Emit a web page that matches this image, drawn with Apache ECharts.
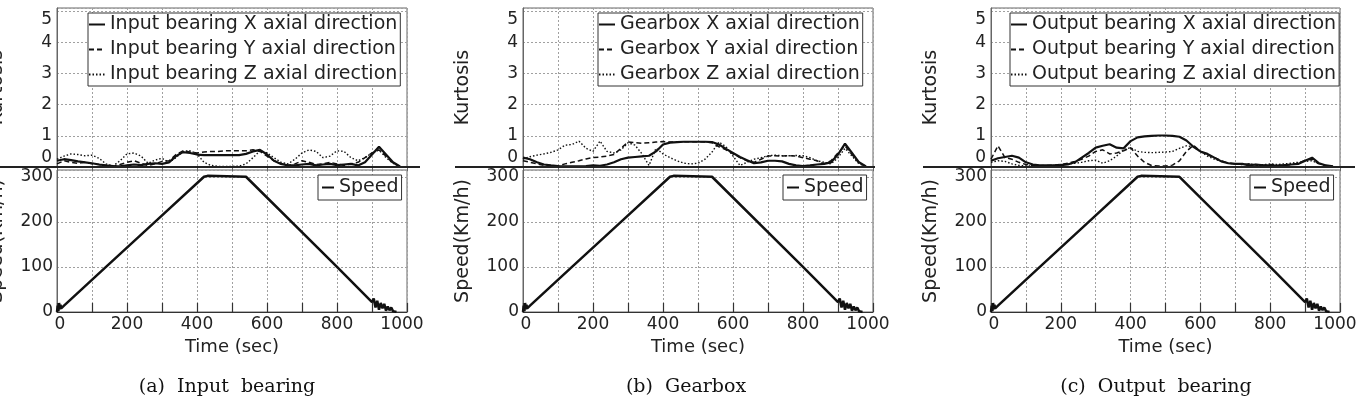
<!DOCTYPE html>
<html>
<head>
<meta charset="utf-8">
<script src="https://cdn.jsdelivr.net/npm/echarts@6/dist/echarts.min.js"></script>
<style>
html, body { margin: 0; padding: 0; background: #fff; }
#chart { width: 1358px; height: 399px; }
</style>
</head>
<body>
<div id="chart"></div>
<script>
// sample times (sec) of the kurtosis curves
const time = [0, 20, 40, 60, 80, 100, 120, 140, 160, 180, 200, 220, 240, 260, 280, 300, 320, 340, 360, 380,
    400, 420, 440, 460, 480, 500, 520, 540, 560, 580, 600, 620, 640, 660, 680, 700, 720, 740, 760, 780,
    800, 820, 840, 860, 880, 900, 920, 940, 960, 980]

// (a) input bearing
const inputX = [0.2, 0.25, 0.22, 0.18, 0.15, 0.12, 0.08, 0.05, 0.03, 0.02, 0.05, 0.08, 0.06, 0.1, 0.12, 0.1, 0.15, 0.35, 0.48, 0.45,
    0.4, 0.38, 0.38, 0.38, 0.38, 0.38, 0.38, 0.42, 0.5, 0.55, 0.4, 0.2, 0.1, 0.05, 0.05, 0.08, 0.1, 0.05, 0.08, 0.1,
    0.06, 0.08, 0.1, 0.05, 0.15, 0.4, 0.65, 0.4, 0.15, 0.02]
const inputY = [0.1, 0.2, 0.15, 0.12, 0.15, 0.1, 0.08, 0.03, 0.02, 0.08, 0.15, 0.2, 0.12, 0.05, 0.1, 0.18, 0.2, 0.4, 0.52, 0.48,
    0.45, 0.48, 0.5, 0.5, 0.52, 0.52, 0.52, 0.52, 0.55, 0.5, 0.35, 0.2, 0.1, 0.05, 0.1, 0.2, 0.15, 0.08, 0.1, 0.15,
    0.1, 0.05, 0.1, 0.15, 0.3, 0.45, 0.55, 0.35, 0.12, 0.02]
const inputZ = [0.25, 0.35, 0.42, 0.4, 0.36, 0.38, 0.28, 0.1, 0.03, 0.2, 0.42, 0.45, 0.35, 0.12, 0.22, 0.28, 0.15, 0.3, 0.5, 0.52,
    0.42, 0.15, 0.05, 0.02, 0.02, 0.02, 0.03, 0.1, 0.3, 0.52, 0.45, 0.3, 0.15, 0.1, 0.25, 0.45, 0.55, 0.5, 0.3, 0.35,
    0.52, 0.5, 0.3, 0.2, 0.3, 0.45, 0.55, 0.3, 0.12, 0.03]

// (b) gearbox
const gearX = [0.3, 0.25, 0.15, 0.08, 0.05, 0.03, 0.02, 0.02, 0.02, 0.03, 0.05, 0.04, 0.08, 0.15, 0.25, 0.3, 0.32, 0.34, 0.36, 0.5,
    0.72, 0.78, 0.8, 0.81, 0.81, 0.81, 0.81, 0.8, 0.72, 0.58, 0.45, 0.32, 0.22, 0.12, 0.15, 0.2, 0.2, 0.18, 0.1, 0.05,
    0.03, 0.05, 0.08, 0.1, 0.15, 0.4, 0.75, 0.45, 0.15, 0.02]
const gearY = [0.2, 0.15, 0.1, 0.05, 0.02, 0.03, 0.1, 0.15, 0.2, 0.26, 0.3, 0.32, 0.35, 0.4, 0.6, 0.8, 0.78, 0.76, 0.78, 0.8,
    0.82, 0.8, 0.8, 0.81, 0.81, 0.81, 0.8, 0.78, 0.65, 0.55, 0.42, 0.3, 0.2, 0.15, 0.25, 0.35, 0.36, 0.35, 0.36, 0.35,
    0.3, 0.25, 0.2, 0.1, 0.2, 0.45, 0.68, 0.4, 0.12, 0.02]
const gearZ = [0.25, 0.33, 0.38, 0.42, 0.47, 0.55, 0.7, 0.72, 0.83, 0.6, 0.5, 0.83, 0.5, 0.45, 0.55, 0.78, 0.7, 0.42, 0.05, 0.6,
    0.42, 0.3, 0.2, 0.12, 0.1, 0.12, 0.25, 0.48, 0.8, 0.65, 0.35, 0.05, 0.15, 0.25, 0.3, 0.36, 0.38, 0.36, 0.36, 0.37,
    0.36, 0.3, 0.2, 0.15, 0.1, 0.3, 0.6, 0.35, 0.1, 0.02]

// (c) output bearing
const outputX = [0.2, 0.28, 0.32, 0.36, 0.3, 0.15, 0.08, 0.05, 0.05, 0.05, 0.06, 0.08, 0.15, 0.3, 0.45, 0.62, 0.68, 0.73, 0.62, 0.6,
    0.83, 0.95, 0.98, 1.0, 1.01, 1.01, 1.0, 0.97, 0.85, 0.65, 0.5, 0.42, 0.3, 0.18, 0.12, 0.1, 0.1, 0.05, 0.08, 0.05,
    0.05, 0.04, 0.06, 0.08, 0.1, 0.2, 0.3, 0.12, 0.05, 0.02]
const outputY = [0.25, 0.68, 0.3, 0.25, 0.15, 0.08, 0.05, 0.04, 0.05, 0.06, 0.08, 0.12, 0.18, 0.25, 0.35, 0.5, 0.55, 0.42, 0.45, 0.52,
    0.62, 0.35, 0.15, 0.05, 0.03, 0.03, 0.06, 0.2, 0.5, 0.7, 0.5, 0.4, 0.3, 0.2, 0.12, 0.1, 0.08, 0.1, 0.06, 0.05,
    0.08, 0.06, 0.05, 0.08, 0.12, 0.22, 0.25, 0.1, 0.05, 0.02]
const outputZ = [0.15, 0.2, 0.18, 0.1, 0.05, 0.03, 0.03, 0.02, 0.03, 0.05, 0.08, 0.1, 0.12, 0.15, 0.2, 0.22, 0.12, 0.2, 0.35, 0.55,
    0.62, 0.5, 0.47, 0.46, 0.47, 0.48, 0.5, 0.6, 0.68, 0.65, 0.5, 0.35, 0.25, 0.18, 0.12, 0.1, 0.08, 0.1, 0.08, 0.07,
    0.1, 0.08, 0.1, 0.12, 0.15, 0.18, 0.2, 0.1, 0.04, 0.01]

// speed profile (same run in all three panels)
const speedTime = [0, 2, 4, 6, 8, 10, 12, 14, 16, 20, 140, 280, 420, 430, 540, 800, 900, 905, 910, 915, 920, 925, 930,
    935, 940, 945, 950, 955, 960, 965, 970]
const speedVal = [0, 14, 2, 20, 6, 16, 8, 12, 10, 14, 100, 200, 300, 302, 300, 100, 22, 30, 10, 25, 5, 20, 8,
    18, 3, 12, 4, 10, 2, 5, 0]

const kurtTicks = [0, 1, 2, 3, 4, 5]
const speedTicks = [0, 100, 200, 300]
const timeTicks = [0, 200, 400, 600, 800, 1000]

const panels = [
    { caption: '(a)  Input  bearing', names: ['Input bearing X axial direction', 'Input bearing Y axial direction', 'Input bearing Z axial direction'], data: [inputX, inputY, inputZ] },
    { caption: '(b)  Gearbox', names: ['Gearbox X axial direction', 'Gearbox Y axial direction', 'Gearbox Z axial direction'], data: [gearX, gearY, gearZ] },
    { caption: '(c)  Output  bearing', names: ['Output bearing X axial direction', 'Output bearing Y axial direction', 'Output bearing Z axial direction'], data: [outputX, outputY, outputZ] }
]

// layout
const plotLeft = [57, 523, 991]
const plotWidth = [350, 350, 349]
const kurtLegendLeft = [88, 598, 1010]
const speedLegendLeft = [318, 783, 1250]
const captionX = [227, 686, 1156]
const sepLine = [[0, 420], [455, 875], [923, 1355]]

const FONT = 'DejaVu Sans'
const gridLine = { show: true, lineStyle: { color: '#a0a0a0', type: [2, 2], width: 1 } }
const styles = [
    { width: 2.2, type: 'solid' },
    { width: 1.5, type: [5, 3] },
    { width: 1.4, type: [1.5, 2] }
]
const tickFont = { fontSize: 17, color: '#222', fontFamily: FONT }

const chart = echarts.init(document.getElementById('chart'))

let grid = [], xAxis = [], yAxis = [], series = [], legend = [], graphic = []

panels.forEach((p, i) => {
    const gTop = i * 2, gBot = i * 2 + 1
    grid.push({ left: plotLeft[i], width: plotWidth[i], top: 8, height: 159, show: true, borderColor: '#666', borderWidth: 1, outerBoundsMode: 'none', containLabel: false })
    grid.push({ left: plotLeft[i], width: plotWidth[i], top: 170, height: 142, show: true, borderColor: '#666', borderWidth: 1, outerBoundsMode: 'none', containLabel: false })

    xAxis.push({
        gridIndex: gTop, type: 'value', position: 'top', min: 0, max: 1000, interval: 100,
        axisLine: { lineStyle: { color: '#666' } },
        axisTick: { inside: true, length: 4, lineStyle: { color: '#666' } },
        axisLabel: { show: false },
        splitLine: gridLine
    })
    xAxis.push({
        gridIndex: gBot, type: 'value', min: 0, max: 1000, interval: 100,
        name: 'Time (sec)', nameLocation: 'middle', nameGap: 26,
        nameTextStyle: { fontSize: 18, color: '#222', fontFamily: FONT },
        axisLine: { lineStyle: { color: '#333', width: 1.2 } },
        axisTick: { inside: true, length: 9, lineStyle: { color: '#333', width: 1.2 } },
        axisLabel: {
            ...tickFont, margin: 4,
            formatter: v => v === 0 ? '{first|0}' : v === 1000 ? '{last|1000}' : (timeTicks.includes(v) ? String(v) : ''),
            rich: {
                first: { ...tickFont, padding: [0, 0, 0, 6] },
                last: { ...tickFont, padding: [0, 10, 0, 0] }
            }
        },
        splitLine: gridLine
    })

    yAxis.push({
        gridIndex: gTop, type: 'value', min: 0, max: 5.1, interval: 1,
        name: 'Kurtosis', nameLocation: 'middle', nameGap: 50,
        nameTextStyle: { fontSize: 19, color: '#222', fontFamily: FONT },
        axisLine: { show: true, lineStyle: { color: '#666' } },
        axisTick: { show: false },
        axisLabel: {
            ...tickFont, margin: 5,
            formatter: v => v === 0 ? '{lo|0}' : v === 5 ? '{hi|5}' : (kurtTicks.includes(v) ? String(v) : ''),
            rich: {
                lo: { ...tickFont, padding: [0, 0, 18, 0] },
                hi: { ...tickFont, padding: [16, 0, 0, 0] }
            }
        },
        splitLine: gridLine
    })
    yAxis.push({
        gridIndex: gBot, type: 'value', min: 0, max: 315, interval: 100,
        name: 'Speed(Km/h)', nameLocation: 'middle', nameGap: 50,
        nameTextStyle: { fontSize: 19, color: '#222', fontFamily: FONT },
        axisLine: { show: true, lineStyle: { color: '#666' } },
        axisTick: { show: false },
        axisLabel: {
            ...tickFont, margin: 4,
            formatter: v => speedTicks.includes(v) ? String(v) : ''
        },
        splitLine: gridLine
    })

    // kurtosis curves, Z first so X ends on top
    for (let k = 2; k >= 0; k--) {
        series.push({
            name: p.names[k], type: 'line', xAxisIndex: gTop, yAxisIndex: gTop,
            data: time.map((t, j) => [t, p.data[k][j]]),
            symbol: 'none', showSymbol: false, animation: false, z: 3 + (2 - k),
            itemStyle: { color: '#111' },
            lineStyle: { color: '#111', width: styles[k].width, type: styles[k].type }
        })
    }
    series.push({
        name: 'Speed', type: 'line', xAxisIndex: gBot, yAxisIndex: gBot,
        data: speedTime.map((t, j) => [t, speedVal[j]]),
        symbol: 'none', showSymbol: false, animation: false,
        itemStyle: { color: '#111' },
        lineStyle: { color: '#111', width: 2.5 }
    })

    legend.push({
        data: p.names, orient: 'vertical', left: kurtLegendLeft[i], top: 13,
        itemWidth: 16, itemHeight: 10, itemGap: 6, padding: [2, 3, 2, 0],
        backgroundColor: '#fff', borderColor: '#333', borderWidth: 1,
        selectedMode: false,
        itemStyle: { opacity: 0 },
        textStyle: { fontSize: 19, color: '#222', fontFamily: FONT }
    })
    legend.push({
        data: ['Speed'], orient: 'vertical', left: speedLegendLeft[i], top: 175,
        itemWidth: 12, itemHeight: 10, padding: [3, 3, 3, 3],
        backgroundColor: '#fff', borderColor: '#333', borderWidth: 1,
        selectedMode: false,
        itemStyle: { opacity: 0 },
        textStyle: { fontSize: 19, color: '#222', fontFamily: FONT }
    })

    graphic.push({
        type: 'line', z: 100,
        shape: { x1: sepLine[i][0], y1: 167, x2: sepLine[i][1], y2: 167 },
        style: { stroke: '#222', lineWidth: 2 }
    })
    graphic.push({
        type: 'text', x: captionX[i], y: 387,
        style: { text: p.caption, fill: '#111', font: '19px "DejaVu Serif"', textAlign: 'center', textVerticalAlign: 'middle' }
    })
})

chart.setOption({
    backgroundColor: '#fff',
    animation: false,
    textStyle: { fontFamily: FONT },
    grid, xAxis, yAxis, series, legend, graphic
})
</script>
</body>
</html>
